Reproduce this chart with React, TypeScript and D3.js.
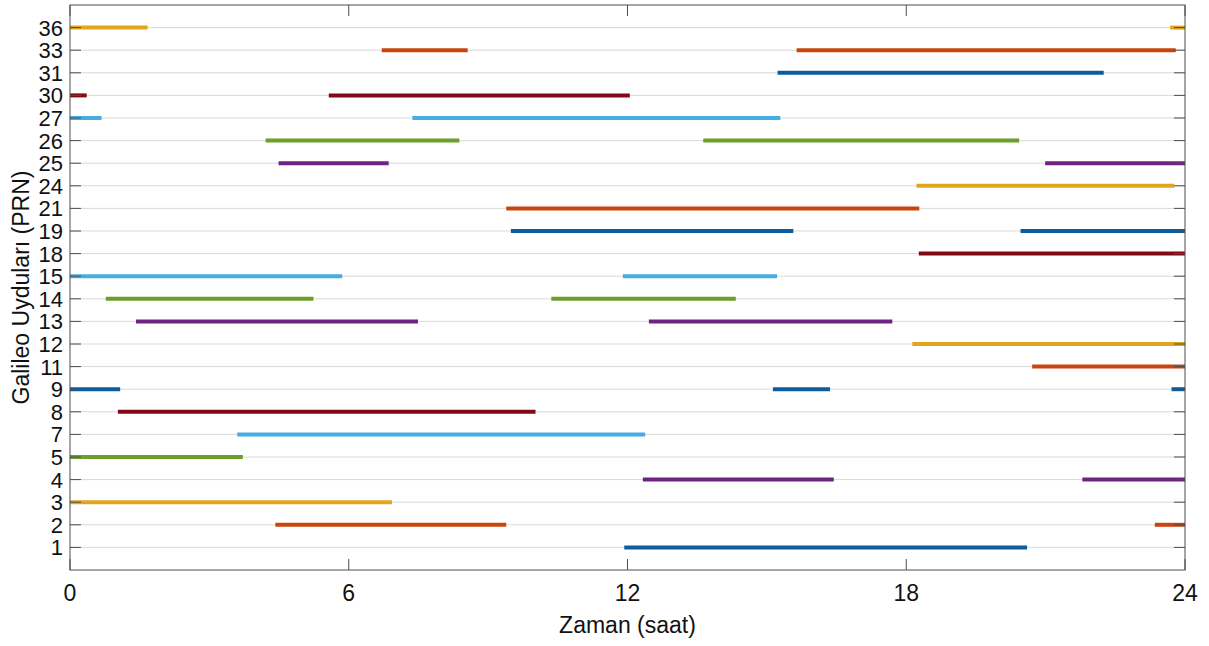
import React from 'react'
import * as d3 from 'd3'

// Galileo satellites (PRN) shown on the y axis, bottom to top
const prns = [1, 2, 3, 4, 5, 7, 8, 9, 11, 12, 13, 14, 15, 18, 19, 21, 24, 25, 26, 27, 30, 31, 33, 36]

// visibility windows in hours, one list per PRN (same order as prns)
const passes: [number, number][][] = [
  [[11.93, 20.6]],
  [[4.42, 9.39], [23.35, 24]],
  [[0, 6.93]],
  [[12.33, 16.44], [21.79, 24]],
  [[0, 3.72]],
  [[3.6, 12.38]],
  [[1.03, 10.02]],
  [[0, 1.08], [15.13, 16.36], [23.71, 24]],
  [[20.71, 24]],
  [[18.13, 24]],
  [[1.42, 7.49], [12.46, 17.7]],
  [[0.77, 5.24], [10.36, 14.33]],
  [[0, 5.86], [11.9, 15.22]],
  [[18.27, 24]],
  [[9.49, 15.57], [20.46, 24]],
  [[9.39, 18.28]],
  [[18.22, 23.77]],
  [[4.49, 6.86], [20.99, 24]],
  [[4.21, 8.38], [13.63, 20.43]],
  [[0, 0.68], [7.37, 15.29]],
  [[0, 0.36], [5.57, 12.05]],
  [[15.23, 22.25]],
  [[6.71, 8.56], [15.64, 23.8]],
  [[0, 1.67], [23.68, 24]],
]

const xTicks = [0, 6, 12, 18, 24]
const palette = ['#0c5c9e', '#c9450c', '#e0a61e', '#6e2382', '#6b9e2a', '#45ade0', '#800b14']

const W = 1209
const H = 646
const margin = { left: 70, right: 24, top: 5, bottom: 76 }
const font = '"Liberation Sans", Arial, Helvetica, sans-serif'

export default function App() {
  const x = d3.scaleLinear().domain([0, 24]).range([margin.left, W - margin.right])
  const y = d3.scaleLinear().domain([0, prns.length + 1]).range([H - margin.bottom, margin.top])
  const [x0, x1] = x.range()
  const [yb, yt] = y.range()
  const tickLen = 11
  const axisColor = '#4d4d4d'

  return (
    <svg width={W} height={H} style={{ position: 'absolute', left: 0, top: 0, background: '#fff' }}>
      {/* horizontal grid */}
      {prns.map((p, i) => (
        <line key={'g' + p} x1={x0} x2={x1} y1={y(i + 1)} y2={y(i + 1)} stroke="#d9d9d9" strokeWidth={1} />
      ))}

      {/* passes */}
      {passes.map((segs, i) =>
        segs.map(([a, b], j) => (
          <line
            key={`s${i}-${j}`}
            x1={x(a)}
            x2={x(b)}
            y1={y(i + 1)}
            y2={y(i + 1)}
            stroke={palette[i % palette.length]}
            strokeWidth={4}
          />
        ))
      )}

      {/* box */}
      <rect x={x0} y={yt} width={x1 - x0} height={yb - yt} fill="none" stroke={axisColor} strokeWidth={1} />

      {/* y ticks + labels */}
      {prns.map((p, i) => (
        <g key={'y' + p}>
          <line x1={x0} x2={x0 + tickLen} y1={y(i + 1)} y2={y(i + 1)} stroke={axisColor} />
          <line x1={x1 - tickLen} x2={x1} y1={y(i + 1)} y2={y(i + 1)} stroke={axisColor} />
          <text
            x={x0 - 7}
            y={y(i + 1)}
            dy="0.36em"
            textAnchor="end"
            fontFamily={font}
            fontSize={22}
            fill="#111"
          >
            {p}
          </text>
        </g>
      ))}

      {/* x ticks + labels */}
      {xTicks.map((t) => (
        <g key={'x' + t}>
          <line x1={x(t)} x2={x(t)} y1={yb} y2={yb - tickLen} stroke={axisColor} />
          <line x1={x(t)} x2={x(t)} y1={yt} y2={yt + tickLen} stroke={axisColor} />
          <text x={x(t)} y={yb + 31} textAnchor="middle" fontFamily={font} fontSize={23} fill="#111">
            {t}
          </text>
        </g>
      ))}

      <text x={(x0 + x1) / 2} y={H - 13} textAnchor="middle" fontFamily={font} fontSize={23} fill="#111">
        Zaman (saat)
      </text>
      <text
        transform={`translate(29,${(yt + yb) / 2}) rotate(-90)`}
        textAnchor="middle"
        fontFamily={font}
        fontSize={23}
        fill="#111"
      >
        Galileo Uyduları (PRN)
      </text>
    </svg>
  )
}
